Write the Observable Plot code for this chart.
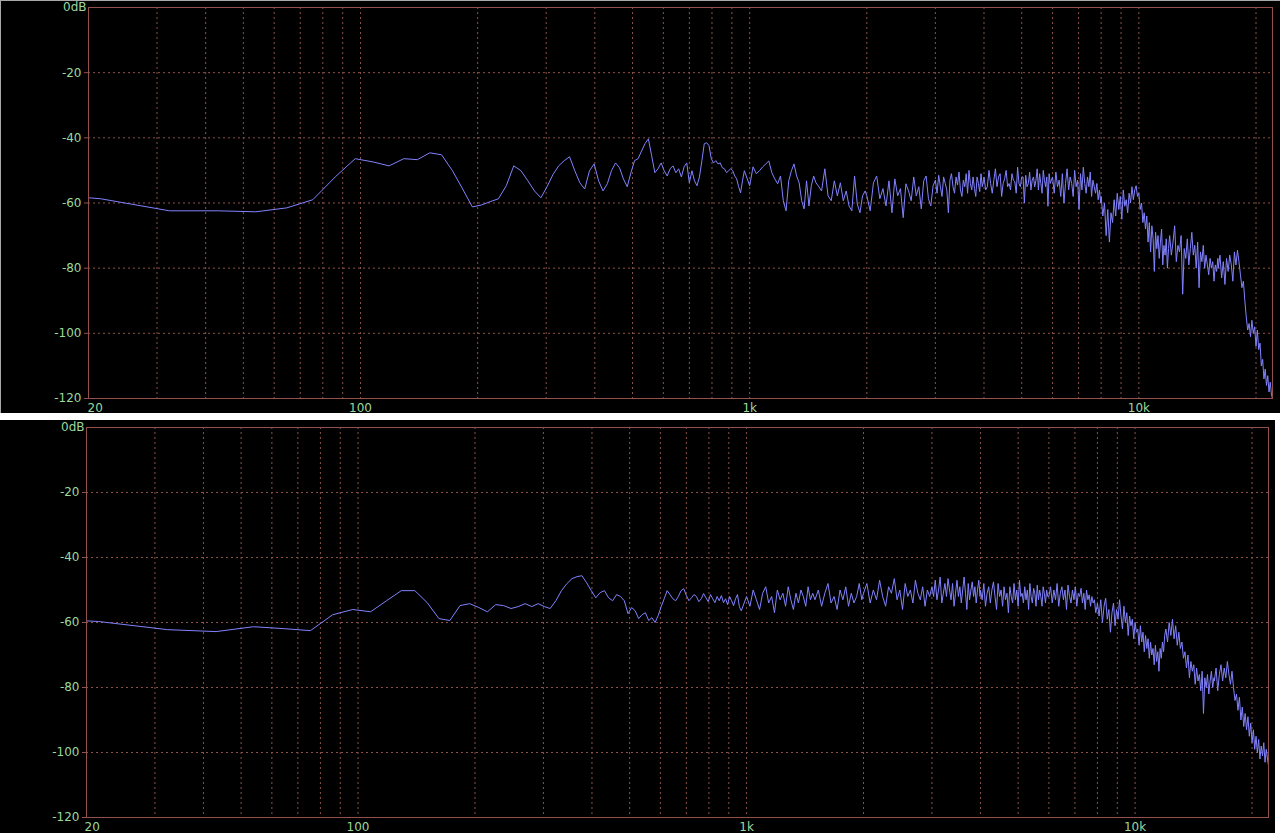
<!DOCTYPE html>
<html><head><meta charset="utf-8">
<script src="https://cdn.jsdelivr.net/npm/d3@7"></script>
<script src="https://cdn.jsdelivr.net/npm/@observablehq/plot@0.6"></script>
<style>
html,body{margin:0;padding:0;background:#fff;width:1280px;height:836px;overflow:hidden;}
#top{position:absolute;left:0;top:0;width:1279px;height:412px;background:#000;border-left:1px solid #a8a8a8;border-top:1px solid #a8a8a8;}
#bottom{position:absolute;left:0;top:420px;width:1275px;height:413px;background:#000;}
svg{display:block}
</style></head><body>
<div id="top"></div><div id="bottom"></div>
<script>
// Frequencies of the plotted spectrum points (Hz)
const freqHz = [20,21.5,32.3,43.1,53.8,64.6,75.4,86.1,96.9,107.7,118.4,129.2,140,150.7,161.5,172.3,183,193.8,204.6,215.3,
226.1,236.9,247.6,258.4,269.2,279.9,290.7,301.5,312.2,323,333.8,344.5,355.3,366.1,376.8,387.6,398.4,409.1,419.9,430.7,
441.4,452.2,463,473.7,484.5,495.3,506,516.8,527.6,538.3,549.1,559.9,570.6,581.4,592.2,602.9,613.7,624.5,635.2,646,
656.8,667.5,678.3,689.1,699.8,710.6,721.4,732.1,742.9,753.7,764.4,775.2,786,796.7,807.5,818.3,829,839.8,850.6,861.3,
872.1,882.9,893.6,904.4,915.2,925.9,936.7,947.5,958.2,969,
1000,1020,1040,1060,1080,1100,1120,1140,1160,1180,1200,1220,1240,1260,1280,1300,1320,1340,1360,1380,1400,1420,1440,1460,1480,
1500,1530,1560,1590,1620,1650,1680,1710,1740,1770,1800,1830,1860,1890,1920,1950,1980,
2000,2040,2080,2120,2160,2200,2240,2280,2320,2360,2400,2440,2480,2520,2560,2600,2640,2680,2720,2760,2800,2840,2880,2920,2960,
3000,3030,3060,3090,3120,3150,3180,3210,3240,3270,3300,3330,3360,3390,3420,3450,3480,3510,3540,3570,3600,3630,3660,3690,3720,3750,3780,3810,3840,3870,3900,3930,3960,3990,
4000,4040,4080,4120,4160,4200,4240,4280,4320,4360,4400,4440,4480,4520,4560,4600,4640,4680,4720,4760,4800,4840,4880,4920,4960,
5000,5040,5080,5120,5160,5200,5240,5280,5320,5360,5400,5440,5480,5520,5560,5600,5640,5680,5720,5760,5800,5840,5880,5920,5960,
6000,6060,6120,6180,6240,6300,6360,6420,6480,6540,6600,6660,6720,6780,6840,6900,6960,7020,7080,7140,7200,7260,7320,7380,7440,7500,7560,7620,7680,7740,7800,7860,7920,7980,
8000,8080,8160,8240,8320,8400,8480,8560,8640,8720,8800,8880,8960,9040,9120,9200,9280,9360,9440,9520,9600,9680,9760,9840,9920,
10000,10080,10160,10240,10320,10400,10480,10560,10640,10720,10800,10880,10960,11040,11120,11200,11280,11360,11440,11520,11600,11680,11760,11840,11920,
12000,12120,12240,12360,12480,12600,12720,12840,12960,13080,13200,13320,13440,13560,13680,13800,13920,14040,14160,14280,14400,14520,14640,14760,14880,15000,15120,15240,15360,15480,15600,15720,15840,15960,
16000,16160,16320,16480,16640,16800,16960,17120,17280,17440,17600,17760,17920,18080,18240,18400,18560,18720,18880,19040,19200,19360,19520,19680,19840,
20000,20160,20320,20480,20640,20800,20960,21120,21280,21440,21600,21760,21920,22050];

// Upper panel levels (dB)
const topLevelDb = [-58.4,-58.7,-62.4,-62.4,-62.7,-61.5,-59,-52,-46.4,-47.4,-48.6,-46.4,-46.7,-44.6,-45.2,-50.1,-55.7,-61.2,-60.6,-59.6,
-58.7,-54.7,-48.6,-50.1,-53.2,-56.3,-58.4,-55,-51.3,-48.6,-47,-45.8,-50.1,-53.8,-55.7,-50.1,-48,-53.2,-56.3,-54.1,
-50.1,-47.7,-49.2,-52.6,-55,-50.7,-47,-46.4,-44,-41.8,-40.3,-45.5,-50.7,-49.5,-47.7,-50.1,-51.7,-49.5,-48.6,-50.7,
-49.5,-52,-48.9,-47.7,-53.8,-50.1,-53.2,-54.7,-52,-47,-41.8,-41.5,-42.4,-46.4,-47.7,-47,-48,-47.7,-49.2,-49.5,
-50.7,-50.1,-49.5,-50.1,-51.7,-52.6,-55,-56.9,-53.2,-50.1,
-54.7,-48.9,-51,-50.1,-48.9,-48,-47.1,-50.7,-52.6,-54.1,-51.7,-59.3,-62.4,-53.2,-50.1,-48,-51.7,-53.8,-59.3,-61.8,-53.2,-60.9,-54.7,-51.7,-53.8,
-54.7,-56.3,-49.5,-57.8,-59.3,-53.2,-57.8,-53.8,-59.3,-56.3,-60.9,-62.4,-51.7,-60.3,-63,-57.8,-56.3,
-57.8,-62.4,-53.8,-51.7,-58.7,-55.6,-60.9,-53.2,-63,-52.6,-57.8,-55.6,-64.5,-54.1,-56.3,-59.3,-52,-57.8,-55,-61.8,-53.2,-51.7,-58.7,-60.9,-54.7,
-53,-57,-51.5,-55,-58,-52,-54,-56,-63,-53,-51,-55,-57,-52,-54.5,-50.5,-56,-58,-53,-55,-51,-57,-50,-54,-56,-52,-55.5,-58,-52,-54,-56.5,-51,-55,-53,
-52,-56,-55,-50,-54,-57,-53,-49.5,-55,-52,-51,-58,-54,-52.5,-50,-55,-54,-56,-51,-53,-53.5,-57,-49,-54,-55,
-52,-52,-60,-51.5,-55,-54,-50.5,-56,-53,-52,-55,-53,-49.5,-56,-51,-54,-57,-50,-53,-55,-52,-61,-51,-54,-53,
-52,-57,-50.5,-55,-53,-58,-51,-60,-54,-49.5,-56,-52,-54,-58,-50,-55,-53,-62,-51,-56,-49,-54,-57,-52,-55,-50.5,-58,-53,-55,-57,-54,-59,-56,-60,
-58,-64,-60,-70,-62,-72,-63,-66,-59,-64,-57,-62,-58,-65,-56,-61,-59,-63,-57,-60,-55,-59,-56,-54.7,-58,
-57,-62,-60,-66,-63,-68,-64,-72,-66,-75,-67,-71,-81,-69,-74,-70,-77,-72,-68,-79,-73,-76,-71,-80,-74,
-70,-76,-72,-67,-78,-73,-75,-70,-88,-74,-77,-71,-79,-74,-69,-76,-73,-80,-72,-86,-75,-78,-73,-80,-76,-79,-82,-77,-80,-78,-84,-79,-81,-77,
-80,-76,-83,-78,-85,-77,-81,-76,-79,-84,-75,-79,-74.5,-78,-82,-86,-84,-90,-95,-99,-97,-101,-96,-100,-98,
-104,-99,-105,-103,-110,-108,-114,-111,-116,-113,-118,-115,-119,-120];

// Lower panel levels (dB)
const bottomLevelDb = [-59.5,-59.7,-62.2,-62.8,-61.3,-61.9,-62.5,-57.6,-56,-56.7,-53.3,-50.2,-50.2,-53.9,-58.8,-59.4,-54.8,-54.2,-55.4,-56.7,
-54.5,-54.8,-55.7,-55.1,-54.2,-55.1,-54.2,-55.1,-55.7,-53.3,-50.2,-48.1,-46.5,-45.9,-45.6,-47.8,-50.2,-52.4,-50.8,-50.2,
-52.4,-53.3,-51.4,-52,-53.3,-57.3,-55.4,-56.4,-58.8,-57.6,-57,-59.4,-58.5,-60,-57.9,-55.1,-52.7,-50.2,-51.4,-52.7,
-53.3,-52,-50.2,-49.6,-51.7,-53.3,-52.4,-51.4,-52,-53.6,-52.7,-51.1,-52.4,-53.6,-51.4,-52.7,-53.9,-52,-53.3,-51.7,
-53.9,-52.7,-54.5,-52,-53.3,-54.8,-52.7,-51.4,-55.1,-56.4,
-52,-55,-50,-53,-56,-51,-49,-54,-52,-57,-50,-53,-51,-55,-49,-53,-56,-51,-54,-50,-52,-55,-49,-53,-51,
-53,-50,-55,-51,-48,-54,-52,-56,-50,-53,-49,-55,-51,-54,-52,-48,-53,
-51,-48,-54,-50,-53,-47,-52,-55,-49,-51,-46.5,-53,-50,-56,-48,-52,-50,-54,-47,-51,-53,-49,-55,-50,-52,
-49,-52,-47,-53,-50,-46,-54,-51,-48,-52,-46.5,-50,-53,-48,-55,-51,-47,-52,-49,-54,-50,-46,-51,-56,-48,-53,-50,-47.5,-52,-49,-54,-50,-47,-52,
-50,-53,-48,-55,-51,-49,-54,-50,-47.5,-52,-56,-48,-52,-50,-55,-49,-53,-51,-57,-49,-52,-54,-48,-53,-50,
-55,-47,-52,-51,-54,-49,-53,-50,-56,-48,-52,-54,-49.5,-51,-55,-48.5,-53,-50,-52,-55,-49,-51,-54,-50,-52,
-52,-49,-54,-50,-53,-48,-55,-51,-49,-53,-50,-56,-48.5,-52,-54,-50,-53,-49,-55,-51,-52,-49.5,-54,-51,-56,-50,-53,-51.5,-55,-52,-54,-53,-57,-55,
-54,-58,-53,-60,-55,-52.5,-59,-56,-63,-57,-54,-61,-56,-59,-53,-58,-62,-55,-60,-57,-64,-58,-61,-59,-65,
-60,-63,-62,-67,-61,-66,-63,-69,-64,-68,-65,-71,-66,-70,-68,-73,-67,-72,-69,-75,-68,-71,-66,-69,-64,
-62,-66,-60,-64,-59,-65,-61,-67,-63,-68,-66,-71,-69,-74,-70,-77,-72,-75,-73,-79,-74,-78,-76,-81,-75,-88,-77,-80,-76,-82,-78,-75,-80,-77,
-78,-74,-81,-76,-73,-78,-74,-77,-72,-76,-79,-75,-80,-84,-82,-87,-83,-90,-86,-92,-88,-93,-89,-95,-91,
-97,-93,-99,-95,-100,-96,-102,-98,-101,-97,-103,-99,-102,-104];

// Axis ticks and labels
const gridHz = [30,40,50,60,70,80,90,100,200,300,400,500,600,700,800,900,1000,2000,3000,4000,5000,6000,7000,8000,9000,10000,20000];
const gridDb = [-20,-40,-60,-80,-100];
const xTickHz = [20,100,1000,10000];
const xTickLabels = ["20","100","1k","10k"];
const yTickDb = [0,-20,-40,-60,-80,-100,-120];
const yTickLabels = ["0dB","-20","-40","-60","-80","-100","-120"];

const gridColor = "#8c5248";
const frameColor = "#94504c";
const labelColor = "#9cd89c";
const lineColor = "#8282ff";

function panel(el, levels, w, h, m) {
  const data = freqHz.map((f, i) => ({f, db: levels[i]}));
  const fmtX = d => xTickLabels[xTickHz.indexOf(d)];
  const fmtY = d => yTickLabels[yTickDb.indexOf(d)];
  const plot = Plot.plot({
    width: w, height: h,
    marginLeft: m.l, marginRight: m.r, marginTop: m.t, marginBottom: m.b,
    x: {type: "log", domain: [20, 22050], label: null},
    y: {domain: [-120, 0], label: null},
    style: {background: "#000", fontFamily: "'Liberation Sans Narrow','DejaVu Sans',sans-serif", fontSize: "12px", overflow: "visible"},
    marks: [
      Plot.gridX(gridHz, {stroke: gridColor, strokeOpacity: 1, strokeDasharray: "2,3"}),
      Plot.gridY(gridDb, {stroke: gridColor, strokeOpacity: 1, strokeDasharray: "2,3"}),
      Plot.line(data, {x: "f", y: "db", stroke: lineColor, strokeWidth: 1}),
      Plot.frame({stroke: frameColor}),
      Plot.axisY(yTickDb.slice(1), {tickSize: 4, tickPadding: 3, stroke: frameColor, color: labelColor, tickFormat: fmtY, label: null}),
      Plot.axisY([0], {tickSize: 0, tickPadding: 2, color: labelColor, tickFormat: fmtY, label: null}),
      Plot.axisX([20], {tickSize: 0, tickPadding: 5, textAnchor: "start", dx: m.dx20, color: labelColor, tickFormat: fmtX, label: null}),
      Plot.axisX(xTickHz.slice(1), {tickSize: 0, tickPadding: 5, color: labelColor, tickFormat: fmtX, label: null})
    ]
  });
  document.getElementById(el).appendChild(plot);
}

panel("top", topLevelDb, 1279, 412, {l: 87, r: 8, t: 6, b: 15, dx20: -1});
panel("bottom", bottomLevelDb, 1275, 413, {l: 86, r: 7, t: 7, b: 16, dx20: -2});
</script></body></html>
